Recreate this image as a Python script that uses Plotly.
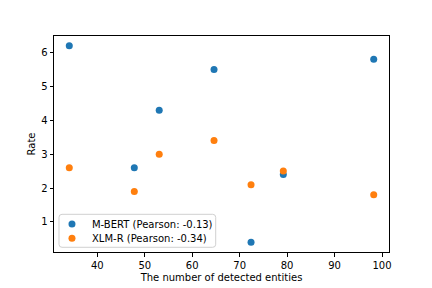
import plotly.graph_objects as go

entities = [34.1, 47.8, 53.05, 64.6, 72.4, 79.2, 98.25]
mbert_rate = [6.2, 2.6, 4.3, 5.5, 0.4, 2.4, 5.8]
xlmr_rate = [2.6, 1.9, 3.0, 3.4, 2.1, 2.5, 1.8]
series_names = ["M-BERT (Pearson: -0.13)", "XLM-R (Pearson: -0.34)"]
x_ticks = [40, 50, 60, 70, 80, 90, 100]
y_ticks = [1, 2, 3, 4, 5, 6]

fig = go.Figure()
fig.add_trace(go.Scatter(x=entities, y=mbert_rate, mode="markers", name=series_names[0],
                         marker=dict(color="#1f77b4", size=7), legend="legend"))
fig.add_trace(go.Scatter(x=entities, y=xlmr_rate, mode="markers", name=series_names[1],
                         marker=dict(color="#ff7f0e", size=7), legend="legend2"))

axis_common = dict(showline=True, linecolor="black", linewidth=1, mirror=True,
                   ticks="outside", ticklen=3.5, tickcolor="black", showgrid=False,
                   zeroline=False, automargin=False, tickfont=dict(size=10, color="black"))

# legend frame (rounded rectangle) in paper coordinates
x0, x1, y0, y1 = 0.0149, 0.4827, 0.0218, 0.1745
rx, ry = 0.009, 0.014
frame = (f"M {x0+rx},{y0} L {x1-rx},{y0} Q {x1},{y0} {x1},{y0+ry} "
         f"L {x1},{y1-ry} Q {x1},{y1} {x1-rx},{y1} L {x0+rx},{y1} "
         f"Q {x0},{y1} {x0},{y1-ry} L {x0},{y0+ry} Q {x0},{y0} {x0+rx},{y0} Z")

leg_common = dict(xanchor="left", yanchor="middle", borderwidth=0,
                  bgcolor="rgba(0,0,0,0)", font=dict(size=10, color="black"), itemwidth=30)

fig.update_layout(
    width=432, height=288,
    margin=dict(l=54, r=43, t=36, b=36, autoexpand=False),
    paper_bgcolor="white", plot_bgcolor="white",
    font=dict(family="DejaVu Sans", size=10, color="black"),
    xaxis=dict(range=[30.88, 101.47], tickvals=x_ticks,
               title=dict(text="The number of detected entities", standoff=4, font=dict(size=10)),
               **axis_common),
    yaxis=dict(range=[0.11, 6.49], tickvals=y_ticks,
               title=dict(text="Rate", standoff=3, font=dict(size=10)),
               **axis_common),
    legend=dict(x=-0.006, y=0.1296, **leg_common),
    legend2=dict(x=-0.006, y=0.0634, **leg_common),
    shapes=[dict(type="path", path=frame, xref="paper", yref="paper", layer="above",
                 fillcolor="rgba(255,255,255,0.8)", line=dict(color="#d0d0d0", width=1))],
    showlegend=True,
)
fig.write_html("out.html", config={"displayModeBar": False},
               post_script="document.body.style.margin='0';document.body.style.padding='0';")
